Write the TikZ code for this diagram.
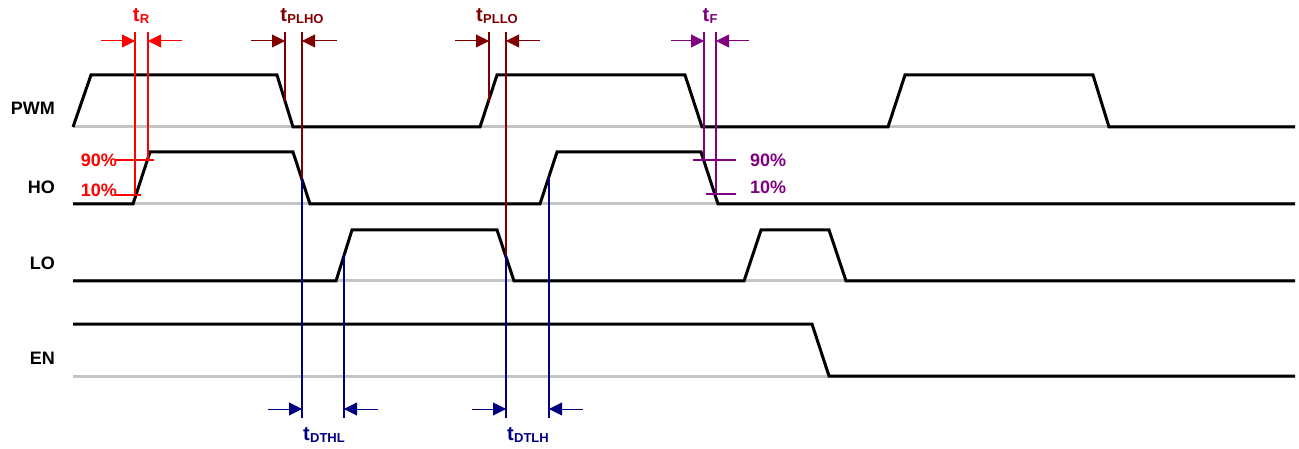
\documentclass[tikz,border=0pt]{standalone}
\usepackage{fontspec}
\setmainfont{Liberation Sans}
\usetikzlibrary{arrows.meta}
\definecolor{dred}{RGB}{128,0,0}
\definecolor{purp}{RGB}{128,0,128}
\definecolor{navyb}{RGB}{0,0,128}
\definecolor{basegray}{RGB}{196,196,196}
\newcommand\tlab[1]{t\kern0.3pt\raisebox{-2.5pt}{\fontsize{13}{14}\selectfont #1}}
\begin{document}
\begin{tikzpicture}[x=1pt,y=-1pt,
  wave/.style={line width=3pt, line join=miter, black},
  baseline/.style={line width=3pt, basegray},
  rowlbl/.style={font=\bfseries\fontsize{18}{20}\selectfont, anchor=east, inner sep=0pt},
  pct/.style={font=\bfseries\fontsize{18}{20}\selectfont, inner sep=0pt},
  tl/.style={font=\bfseries\fontsize{20}{22}\selectfont, inner sep=0pt},
  mark line/.style={line width=1.3pt},
  dimarrow/.style={line width=1pt, -{Triangle[length=13pt,width=13pt]}}]
\useasboundingbox (0,0) rectangle (1299,449);

% row labels
\node[rowlbl] (lpwm) at (55,108) {PWM};
\node[rowlbl] (lho) at (55,187) {HO};
\node[rowlbl] (llo) at (55,263) {LO};
\node[rowlbl] (len) at (55,358) {EN};

% grey baselines
\draw[baseline] (73,127) -- (1295,127);
\draw[baseline] (73,204) -- (1295,204);
\draw[baseline] (73,281) -- (1295,281);
\draw[baseline] (73,376) -- (1295,376);

% waveforms
\draw[wave] (73,127) -- (91,75) -- (277,75) -- (293,127) -- (480,127) -- (497,75) -- (685,75) -- (702,127) -- (888,127) -- (905,75) -- (1093,75) -- (1109,127) -- (1295,127);
\draw[wave] (73,204) -- (133,204) -- (150,152) -- (293,152) -- (310,204) -- (540,204) -- (557,152) -- (701,152) -- (718,204) -- (1295,204);
\draw[wave] (73,281) -- (336,281) -- (352,230) -- (497,230) -- (514,281) -- (744,281) -- (761,230) -- (829,230) -- (846,281) -- (1295,281);
\draw[wave] (73,324) -- (812,324) -- (829,376) -- (1295,376);

% key coordinates
\coordinate (rA) at (135,32);  \coordinate (rA10) at (135,195);
\coordinate (rB) at (148,32);  \coordinate (rB90) at (148,160);
\coordinate (pA) at (285,32);  \coordinate (pAe) at (285,101);
\coordinate (pB) at (302,32);  \coordinate (pBe) at (302,178); \coordinate (pBb) at (302,418);
\coordinate (qA) at (489,32);  \coordinate (qAe) at (489,101);
\coordinate (qB) at (506,32);  \coordinate (qBe) at (506,255); \coordinate (qBb) at (506,418);
\coordinate (dA) at (344,255); \coordinate (dAb) at (344,418);
\coordinate (dB) at (549,178); \coordinate (dBb) at (549,418);
\coordinate (fA) at (704,32);  \coordinate (fA90) at (704,160);
\coordinate (fB) at (716,32);  \coordinate (fB10) at (716,194);

% t_R (red)
\draw[mark line, red] (rA) -- (rA10);
\draw[mark line, red] (rB) -- (rB90);
\draw[mark line, red] (115,160) coordinate (r90l) -- (154,160) coordinate (r90r);
\draw[mark line, red] (115,195) coordinate (r10l) -- (141,195) coordinate (r10r);
\node[pct, red, anchor=east] (r90) at (117,160) {90\%};
\node[pct, red, anchor=east] (r10) at (117,190) {10\%};
\coordinate (rAs) at (101,41); \coordinate (rAt) at (135,41);
\coordinate (rBs) at (182,41); \coordinate (rBt) at (148,41);
\draw[dimarrow, red] (rAs) -- (rAt);
\draw[dimarrow, red] (rBs) -- (rBt);
\node[tl, red] (tR) at (141,16) {\tlab{R}};

% t_PLHO (dark red)
\draw[mark line, dred] (pA) -- (pAe);
\draw[mark line, dred] (pB) -- (pBe);
\coordinate (pAs) at (251,41); \coordinate (pAt) at (285,41);
\coordinate (pBs) at (337,41); \coordinate (pBt) at (302,41);
\draw[dimarrow, dred] (pAs) -- (pAt);
\draw[dimarrow, dred] (pBs) -- (pBt);
\node[tl, dred] (tPLHO) at (302,16) {\tlab{PLHO}};

% t_PLLO (dark red)
\draw[mark line, dred] (qA) -- (qAe);
\draw[mark line, dred] (qB) -- (qBe);
\coordinate (qAs) at (455,41); \coordinate (qAt) at (489,41);
\coordinate (qBs) at (540,41); \coordinate (qBt) at (506,41);
\draw[dimarrow, dred] (qAs) -- (qAt);
\draw[dimarrow, dred] (qBs) -- (qBt);
\node[tl, dred] (tPLLO) at (497,16) {\tlab{PLLO}};

% t_F (purple)
\draw[mark line, purp] (fA) -- (fA90);
\draw[mark line, purp] (fB) -- (fB10);
\draw[mark line, purp] (693,160) coordinate (f90l) -- (736,160) coordinate (f90r);
\draw[mark line, purp] (706,194) coordinate (f10l) -- (736,194) coordinate (f10r);
\node[pct, purp, anchor=west] (f90) at (750,160) {90\%};
\node[pct, purp, anchor=west] (f10) at (750,187) {10\%};
\coordinate (fAs) at (671,41); \coordinate (fAt) at (704,41);
\coordinate (fBs) at (749,41); \coordinate (fBt) at (716,41);
\draw[dimarrow, purp] (fAs) -- (fAt);
\draw[dimarrow, purp] (fBs) -- (fBt);
\node[tl, purp] (tF) at (710,16) {\tlab{F}};

% dead times (navy)
\draw[mark line, navyb] (pBe) -- (pBb);
\draw[mark line, navyb] (dA) -- (dAb);
\draw[mark line, navyb] (qBe) -- (qBb);
\draw[mark line, navyb] (dB) -- (dBb);
\coordinate (h1s) at (268,409); \coordinate (h1t) at (302,409);
\coordinate (h2s) at (378,409); \coordinate (h2t) at (344,409);
\coordinate (h3s) at (472,409); \coordinate (h3t) at (506,409);
\coordinate (h4s) at (583,409); \coordinate (h4t) at (549,409);
\draw[dimarrow, navyb] (h1s) -- (h1t);
\draw[dimarrow, navyb] (h2s) -- (h2t);
\draw[dimarrow, navyb] (h3s) -- (h3t);
\draw[dimarrow, navyb] (h4s) -- (h4t);
\node[tl, navyb] (tDTHL) at (324,435) {\tlab{DTHL}};
\node[tl, navyb] (tDTLH) at (528,435) {\tlab{DTLH}};
\end{tikzpicture}
\end{document}
